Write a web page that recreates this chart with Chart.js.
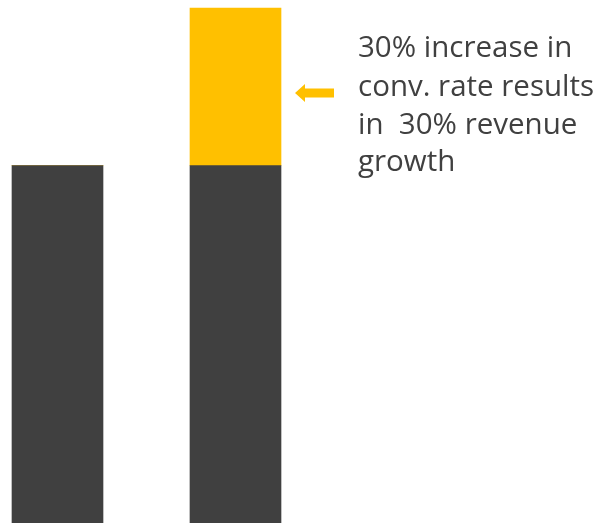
<!DOCTYPE html>
<html>
<head>
<meta charset="utf-8">
<script src="https://cdn.jsdelivr.net/npm/chart.js@4"></script>
<style>
  html, body { margin: 0; padding: 0; background: #ffffff; }
  #wrap { width: 598px; height: 523px; position: relative; }
</style>
</head>
<body>
<div id="wrap"><canvas id="c"></canvas></div>
<script>
// Data
const categories = ['Current', 'With higher conv. rate'];
const baseRevenue = [100, 100];
const revenueIncrease = [0, 30];
const annotationLines = ['30% increase in', 'conv. rate results', 'in  30% revenue', 'growth'];

const DARK = '#404040';
const GOLD = '#FFC000';

const annotationPlugin = {
  id: 'annotation',
  afterDraw(chart) {
    const ctx = chart.ctx;
    ctx.save();
    // arrow
    ctx.fillStyle = GOLD;
    ctx.beginPath();
    ctx.moveTo(295, 93);
    ctx.lineTo(305, 84);
    ctx.lineTo(305, 88.5);
    ctx.lineTo(334, 88.5);
    ctx.lineTo(334, 97.5);
    ctx.lineTo(305, 97.5);
    ctx.lineTo(305, 102);
    ctx.closePath();
    ctx.fill();
    // text
    ctx.fillStyle = DARK;
    ctx.font = '29.5px "Open Sans", "Noto Sans", sans-serif';
    ctx.textAlign = 'left';
    ctx.textBaseline = 'alphabetic';
    const baselines = [57, 96, 133.5, 171];
    annotationLines.forEach((t, i) => ctx.fillText(t, 358, baselines[i]));
    ctx.restore();
  }
};

new Chart(document.getElementById('c'), {
  type: 'bar',
  data: {
    labels: categories,
    datasets: [
      { label: 'Base revenue', data: baseRevenue, backgroundColor: DARK, barThickness: 91, clip: false },
      { label: 'Increase', data: revenueIncrease, backgroundColor: GOLD, barThickness: 91, clip: false }
    ]
  },
  options: {
    responsive: true,
    maintainAspectRatio: false,
    animation: false,
    layout: { padding: { left: 57.5, right: 362.5, top: 8, bottom: 0 } },
    plugins: { legend: { display: false }, tooltip: { enabled: false } },
    scales: {
      x: { stacked: true, display: false, offset: false },
      y: { stacked: true, display: false, min: 32, max: 130 }
    }
  },
  plugins: [annotationPlugin]
});
</script>
</body>
</html>
